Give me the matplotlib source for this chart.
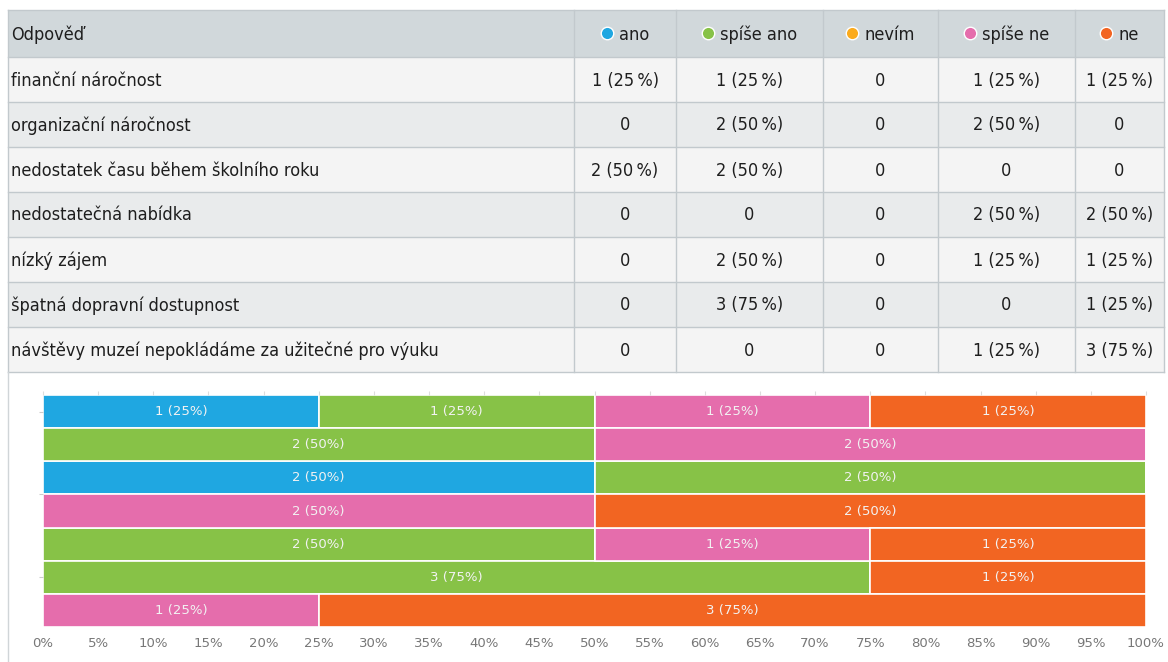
import matplotlib
matplotlib.use("Agg")
import matplotlib.pyplot as plt
from matplotlib.patches import Rectangle
from matplotlib import font_manager as fm
from matplotlib.font_manager import FontProperties

# ---------------- data ----------------
categories = [
    "finanční náročnost",
    "organizační náročnost",
    "nedostatek času během školního roku",
    "nedostatečná nabídka",
    "nízký zájem",
    "špatná dopravní dostupnost",
    "návštěvy muzeí nepokládáme za užitečné pro výuku",
]
series = ["ano", "spíše ano", "nevím", "spíše ne", "ne"]
ano       = [1, 0, 2, 0, 0, 0, 0]
spise_ano = [1, 2, 2, 0, 2, 3, 0]
nevim     = [0, 0, 0, 0, 0, 0, 0]
spise_ne  = [1, 2, 0, 2, 1, 0, 1]
ne        = [1, 0, 0, 2, 1, 1, 3]
values = [ano, spise_ano, nevim, spise_ne, ne]
colors = ["#1fa7e1", "#87c247", "#fbab1d", "#e56dac", "#f26522"]
header_first = "Odpověď"
xtick_vals = list(range(0, 101, 5))
xtick_labels = [f"{v}%" for v in xtick_vals]

# ---------------- choose a narrow font for the table ----------------
def pick_font():
    entries = fm.fontManager.ttflist
    def regular(f):
        return f.style == "normal" and f.weight in (400, "normal", "regular", "book")
    prefs = [
        lambda f: f.name == "Liberation Sans Narrow",
        lambda f: f.name == "DejaVu Sans" and "condensed" in str(f.stretch).lower()
                  and "Condensed" in f.fname,
        lambda f: "Condensed" in f.name or "Narrow" in f.name,
        lambda f: "Condensed" in f.fname and f.name in ("DejaVu Sans", "Open Sans", "Roboto", "Noto Sans"),
    ]
    for p in prefs:
        for f in entries:
            try:
                if p(f) and regular(f):
                    return f.fname
            except Exception:
                pass
    return None

fpath = pick_font()
if fpath:
    base_fp = FontProperties(fname=fpath)
else:
    base_fp = FontProperties(family=["Roboto", "DejaVu Sans"])

W, H = 1168, 662
fig = plt.figure(figsize=(W / 100, H / 100), dpi=100)
fig.patch.set_facecolor("white")
renderer = fig.canvas.get_renderer()

# ---------------- table ----------------
tab = fig.add_axes([0, 0, 1, 1])
tab.set_xlim(0, W)
tab.set_ylim(H, 0)
tab.axis("off")

# calibrate size so that the longest label spans ~427 px
probe_fp = base_fp.copy()
probe_fp.set_size(20)
t = fig.text(0, 0, categories[-1], fontproperties=probe_fp)
w20 = t.get_window_extent(renderer).width
t.remove()
fs = 20 * 427.0 / w20
fp = base_fp.copy()
fp.set_size(fs)

col_x = [8, 574, 676, 823, 938, 1075, 1164]
top, head_h, row_h = 10, 47, 45
n = len(categories)
bottom = top + head_h + n * row_h
line_c = "#c2c9cd"

tab.add_patch(Rectangle((col_x[0], top), col_x[-1] - col_x[0], head_h,
                        facecolor="#d1d8db", edgecolor="none"))
for i in range(n):
    y0 = top + head_h + i * row_h
    fc = "#f4f4f4" if i % 2 == 0 else "#e9ebec"
    tab.add_patch(Rectangle((col_x[0], y0), col_x[-1] - col_x[0], row_h,
                            facecolor=fc, edgecolor="none"))
for x in col_x:
    tab.plot([x, x], [top, bottom], color=line_c, lw=1)
for k in range(n + 2):
    y = top if k == 0 else top + head_h + (k - 1) * row_h
    tab.plot([col_x[0], col_x[-1]], [y, y], color=line_c, lw=1)

txt_c = "#1e1e1e"
hy = top + head_h / 2 + 1
tab.text(col_x[0] + 3, hy, header_first, ha="left", va="center",
         fontproperties=fp, color=txt_c)
for j, (s, c) in enumerate(zip(series, colors)):
    cx = (col_x[j + 1] + col_x[j + 2]) / 2
    tt = fig.text(0, 0, s, fontproperties=fp)
    tw = tt.get_window_extent(renderer).width
    tt.remove()
    gw = 18 + tw
    x0 = cx - gw / 2
    tab.plot([x0 + 6], [hy - 2], "o", ms=9, color=c, mec="white", mew=1.0)
    tab.text(x0 + 18, hy, s, ha="left", va="center", fontproperties=fp, color=txt_c)

total = [sum(v[i] for v in values) for i in range(n)]
for i, cat in enumerate(categories):
    yc = top + head_h + i * row_h + row_h / 2 + 1
    tab.text(col_x[0] + 3, yc, cat, ha="left", va="center", fontproperties=fp, color=txt_c)
    for j in range(len(series)):
        v = values[j][i]
        s = "0" if v == 0 else f"{v} ({round(100 * v / total[i])}\u2009%)"
        cx = (col_x[j + 1] + col_x[j + 2]) / 2
        tab.text(cx, yc, s, ha="center", va="center", fontproperties=fp, color=txt_c)

# container border
tab.plot([8, 8], [bottom, H], color="#d0d5d8", lw=1)

# ---------------- chart ----------------
ax = fig.add_axes([43 / W, (H - 627) / H, (1146 - 43) / W, (627 - 395) / H])
ypos = list(range(n))
left = [0.0] * n
for j, (s, c) in enumerate(zip(series, colors)):
    pct = [100 * values[j][i] / total[i] for i in range(n)]
    ax.barh(ypos, pct, left=left, height=1.0, color=c, edgecolor="white", linewidth=1.2)
    for i in range(n):
        if values[j][i] > 0:
            ax.text(left[i] + pct[i] / 2, i, f"{values[j][i]} ({round(pct[i])}%)",
                    ha="center", va="center", fontsize=9.5, color="#f2f2f2")
    left = [l + p for l, p in zip(left, pct)]

ax.set_xlim(0, 100)
ax.set_ylim(n - 0.5, -0.5)
ax.set_xticks(xtick_vals)
ax.set_xticklabels(xtick_labels)
ax.tick_params(axis="x", top=True, bottom=False, labeltop=False, labelbottom=True,
               length=3, color="#dddddd", labelcolor="#777777", labelsize=9.5, pad=4)
ax.set_yticks([0, 2.5, 5])
ax.set_yticklabels([])
ax.tick_params(axis="y", length=3, color="#cccccc")
for sp in ax.spines.values():
    sp.set_visible(False)

fig.savefig("out.png", dpi=100, facecolor="white")
